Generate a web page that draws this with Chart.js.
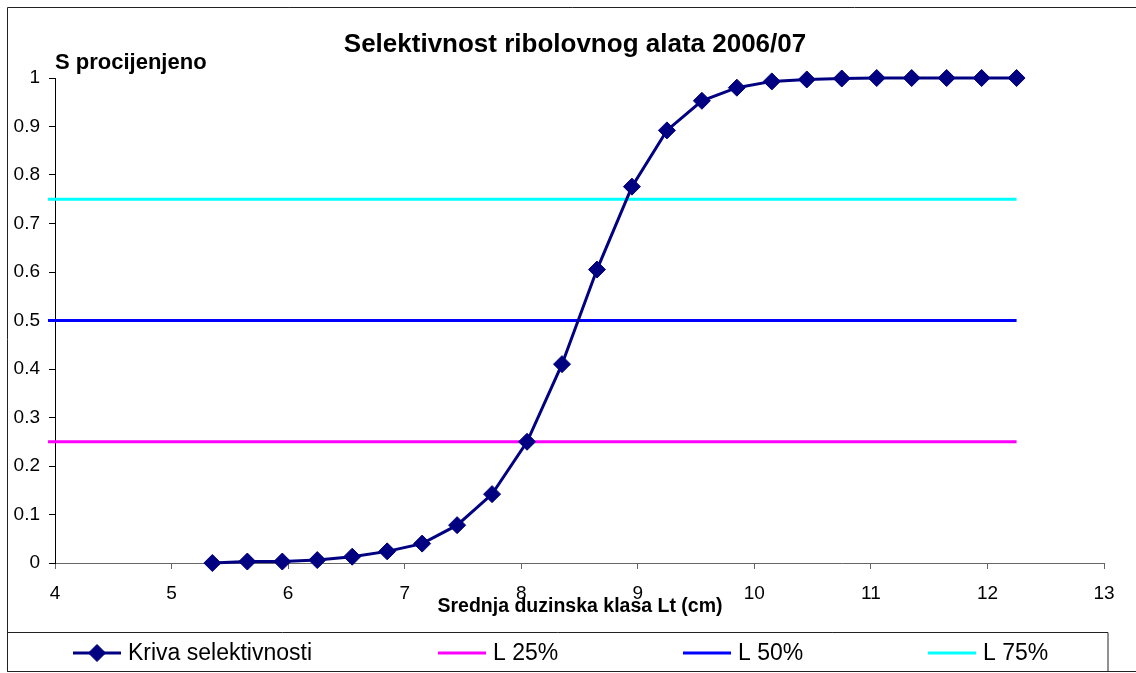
<!DOCTYPE html>
<html>
<head>
<meta charset="utf-8">
<script src="https://cdn.jsdelivr.net/npm/chart.js@4"></script>
<style>
  html, body { margin: 0; padding: 0; background: #fff; }
  #wrap { width: 1136px; height: 673px; }
</style>
</head>
<body>
<div id="wrap"><canvas id="selChart" width="1136" height="673"></canvas></div>
<script>
// srednja duzinska klasa (cm) i procijenjena selektivnost
const duzine = [5.35, 5.65, 5.95, 6.25, 6.55, 6.85, 7.15, 7.45, 7.75, 8.05, 8.35, 8.65,
  8.95, 9.25, 9.55, 9.85, 10.15, 10.45, 10.75, 11.05, 11.35, 11.65, 11.95, 12.25];
const selektivnost = [0, 0.003, 0.003, 0.006, 0.013, 0.024, 0.04, 0.078, 0.142, 0.25, 0.41, 0.605,
  0.776, 0.892, 0.953, 0.98, 0.993, 0.997, 0.999, 1, 1, 1, 1, 1];

// referentne linije L25, L50, L75
const nivoi = [0.25, 0.5, 0.75];
const nivoiNazivi = ['L 25%', 'L 50%', 'L 75%'];
const nivoiBoje = ['#ff00ff', '#0000ff', '#00ffff'];
const linijaOd = 3.94;
const linijaDo = 12.25;

const xTicks = [4, 5, 6, 7, 8, 9, 10, 11, 12, 13];
const yTicks = [0, 0.1, 0.2, 0.3, 0.4, 0.5, 0.6, 0.7, 0.8, 0.9, 1];

const FONT = 'Arial, "Liberation Sans", sans-serif';

const datasets = [
  {
    label: 'Kriva selektivnosti',
    data: duzine.map((x, i) => ({ x: x, y: selektivnost[i] })),
    showLine: true,
    borderColor: '#000080',
    backgroundColor: '#000080',
    borderWidth: 3,
    pointStyle: 'rectRot',
    pointRadius: 8.5,
    pointBorderWidth: 1,
    clip: false,
    order: 0,
  },
];
nivoi.forEach((n, i) => {
  datasets.push({
    label: nivoiNazivi[i],
    data: [{ x: linijaOd, y: n }, { x: linijaDo, y: n }],
    showLine: true,
    borderColor: nivoiBoje[i],
    backgroundColor: nivoiBoje[i],
    borderWidth: 3,
    pointRadius: 0,
    clip: false,
    order: 1,
  });
});

// okvir, naslovi i legenda
const decorations = {
  id: 'decorations',
  beforeDraw(chart) {
    const ctx = chart.ctx;
    ctx.save();
    ctx.fillStyle = '#fff';
    ctx.fillRect(0, 0, chart.width, chart.height);
    ctx.restore();
  },
  afterDraw(chart) {
    const ctx = chart.ctx;
    const area = chart.chartArea;
    ctx.save();
    ctx.strokeStyle = '#222';
    ctx.lineWidth = 1;
    // vanjski okvir
    ctx.beginPath();
    ctx.moveTo(1140, 7.5);
    ctx.lineTo(7.5, 7.5);
    ctx.lineTo(7.5, 671.5);
    ctx.lineTo(1140, 671.5);
    ctx.stroke();
    // okvir legende
    ctx.beginPath();
    ctx.rect(7.5, 632.5, 1100.5, 39);
    ctx.stroke();

    ctx.fillStyle = '#000';
    ctx.textBaseline = 'alphabetic';
    ctx.font = 'bold 26px ' + FONT;
    ctx.textAlign = 'center';
    ctx.fillText('Selektivnost ribolovnog alata 2006/07', 575, 52);

    ctx.font = 'bold 22px ' + FONT;
    ctx.textAlign = 'left';
    ctx.fillText('S procijenjeno', area.left, 69);

    ctx.font = 'bold 19.5px ' + FONT;
    ctx.textAlign = 'center';
    ctx.fillText('Srednja duzinska klasa Lt (cm)', 580, 612);

    // stavke legende
    const legendX = [73, 438, 683, 928];
    const legendY = 653;
    ctx.font = '23px ' + FONT;
    ctx.textAlign = 'left';
    ctx.textBaseline = 'middle';
    chart.data.datasets.forEach((ds, i) => {
      const x0 = legendX[i];
      ctx.strokeStyle = ds.borderColor;
      ctx.lineWidth = 3;
      ctx.beginPath();
      ctx.moveTo(x0, legendY);
      ctx.lineTo(x0 + 48, legendY);
      ctx.stroke();
      if (ds.pointRadius > 0) {
        ctx.fillStyle = ds.backgroundColor;
        ctx.lineWidth = 1;
        Chart.helpers.drawPoint(ctx, {
          pointStyle: ds.pointStyle,
          radius: ds.pointRadius,
          rotation: 0,
          borderWidth: 1,
        }, x0 + 24, legendY);
      }
      ctx.fillStyle = '#000';
      ctx.fillText(ds.label, x0 + 55, legendY + 1);
    });
    ctx.restore();
  },
};

// fiksne dimenzije osa
function fixWidth(w) { return (scale) => { scale.width = w; }; }
function fixHeight(h) { return (scale) => { scale.height = h; }; }

new Chart(document.getElementById('selChart'), {
  type: 'scatter',
  data: { datasets: datasets },
  options: {
    responsive: false,
    animation: false,
    layout: { padding: { top: 78, right: 32, left: 0, bottom: 0 } },
    plugins: {
      legend: { display: false },
      title: { display: false },
      tooltip: { enabled: false },
    },
    scales: {
      x: {
        type: 'linear',
        min: 4,
        max: 13,
        afterFit: fixHeight(110),
        afterBuildTicks: (scale) => { scale.ticks = xTicks.map((v) => ({ value: v })); },
        ticks: {
          color: '#000',
          font: { family: FONT, size: 19 },
          padding: 13,
          maxRotation: 0,
        },
        grid: { drawOnChartArea: false, drawTicks: true, tickLength: 6, color: '#666' },
        border: { color: '#666', width: 1 },
      },
      y: {
        type: 'linear',
        min: 0,
        max: 1,
        afterFit: fixWidth(55),
        afterBuildTicks: (scale) => { scale.ticks = yTicks.map((v) => ({ value: v })); },
        ticks: {
          color: '#000',
          font: { family: FONT, size: 19 },
          padding: 9,
          callback: (v) => String(Math.round(v * 10) / 10),
        },
        grid: { drawOnChartArea: false, drawTicks: true, tickLength: 6, color: '#000' },
        border: { color: '#000', width: 1 },
      },
    },
  },
  plugins: [decorations],
});
</script>
</body>
</html>
